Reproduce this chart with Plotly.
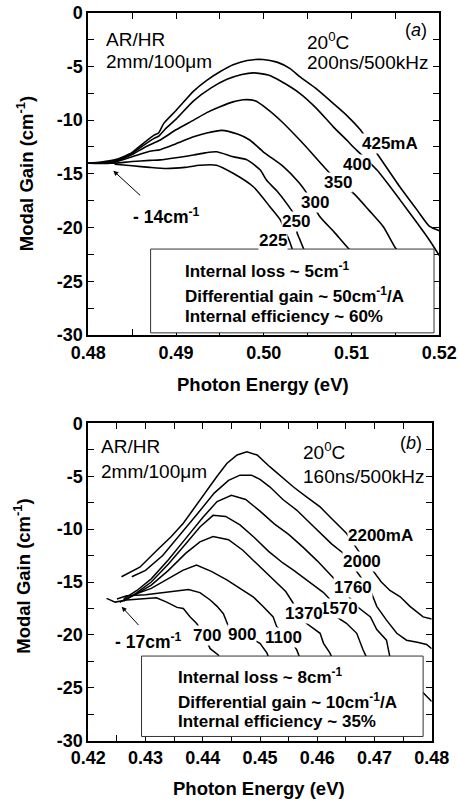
import plotly.graph_objects as go

# ---------------- data: panel (a) ----------------
E_425 = [0.4800,0.4815,0.4830,0.4840,0.4850,0.4862,0.4875,0.4880,0.4886,0.4900,0.4920,0.4935,0.4950,0.4965,0.4981,0.4999,0.5015,0.5030,0.5041,0.5060,0.5079,0.5095,0.5110,0.5129,0.5155,0.5175,0.5189,0.5200]
G_425 = [-14.0,-13.9,-13.7,-13.4,-13.0,-12.2,-11.4,-11.2,-10.3,-9.1,-7.3,-6.3,-5.5,-4.85,-4.45,-4.35,-4.6,-5.2,-5.96,-7.1,-8.44,-9.6,-10.9,-13.1,-16.2,-18.4,-19.9,-20.3]
E_400 = [0.4800,0.4815,0.4830,0.4840,0.4850,0.4862,0.4875,0.4880,0.4888,0.4900,0.4920,0.4940,0.4958,0.4975,0.4988,0.5005,0.5020,0.5041,0.5060,0.5079,0.5095,0.5102,0.5129,0.5155,0.5175,0.5189,0.5200]
G_400 = [-14.0,-13.95,-13.8,-13.5,-13.1,-12.4,-11.7,-11.5,-10.8,-9.9,-8.2,-7.0,-6.2,-5.75,-5.6,-5.8,-6.4,-7.5,-8.9,-10.6,-11.9,-12.5,-14.65,-17.4,-19.6,-21.2,-22.6]
E_350 = [0.4800,0.4820,0.4835,0.4850,0.4865,0.4882,0.4900,0.4920,0.4935,0.4950,0.4965,0.4977,0.4990,0.5003,0.5020,0.5041,0.5055,0.5068,0.5085,0.5102,0.5120,0.5136,0.5150,0.5160]
G_350 = [-14.0,-13.95,-13.7,-13.2,-12.5,-11.85,-10.9,-10.0,-9.3,-8.75,-8.3,-8.1,-8.2,-8.9,-10.1,-11.85,-13.1,-14.3,-15.8,-16.8,-18.4,-19.9,-21.9,-23.0]
E_300 = [0.4800,0.4825,0.4850,0.4870,0.4882,0.4900,0.4920,0.4935,0.4952,0.4970,0.4984,0.5000,0.5022,0.5040,0.5049,0.5064,0.5080,0.5096,0.5110]
G_300 = [-14.0,-14.0,-13.4,-12.9,-12.75,-12.2,-11.55,-11.2,-10.95,-11.3,-11.85,-13.0,-14.3,-15.8,-16.8,-19.0,-20.4,-21.9,-23.0]
E_250 = [0.4800,0.4830,0.4850,0.4870,0.4882,0.4900,0.4920,0.4933,0.4946,0.4965,0.4981,0.4996,0.5003,0.5015,0.5026,0.5036,0.5038,0.5041,0.5045,0.5050]
G_250 = [-14.0,-14.0,-13.85,-13.75,-13.7,-13.5,-13.25,-13.05,-12.94,-13.4,-13.7,-14.65,-15.58,-16.6,-17.75,-19.0,-20.5,-21.1,-21.9,-22.8]
E_225 = [0.4830,0.4850,0.4870,0.4889,0.4910,0.4927,0.4946,0.4965,0.4988,0.5007,0.5019,0.5024,0.5028,0.5032,0.5036]
G_225 = [-14.1,-14.25,-14.4,-14.5,-14.4,-14.2,-14.2,-14.95,-16.2,-18.06,-19.3,-20.3,-21.0,-21.9,-23.0]

# ---------------- data: panel (b) ----------------
E_2200 = [0.4258,0.4290,0.4320,0.4345,0.4366,0.4390,0.4407,0.4425,0.4442,0.4460,0.4477,0.4495,0.4517,0.4540,0.4558,0.4580,0.4605,0.4625,0.4651,0.4675,0.4698,0.4712,0.4727,0.4745,0.4762,0.4785,0.4800]
G_2200 = [-14.5,-13.6,-12.0,-10.7,-9.45,-7.6,-6.3,-5.0,-3.8,-3.0,-2.7,-3.0,-4.1,-5.2,-6.0,-6.9,-7.9,-9.0,-10.4,-12.3,-14.0,-15.0,-15.8,-16.4,-17.3,-18.3,-18.5]
E_2000 = [0.4276,0.4300,0.4330,0.4360,0.4390,0.4420,0.4445,0.4465,0.4485,0.4500,0.4517,0.4540,0.4564,0.4585,0.4605,0.4625,0.4646,0.4672,0.4693,0.4704,0.4721,0.4739,0.4756,0.4775,0.4791,0.4800]
G_2000 = [-14.5,-13.9,-12.5,-10.6,-8.6,-6.6,-5.4,-4.9,-4.9,-5.3,-6.0,-7.2,-8.2,-9.3,-10.4,-11.4,-12.3,-14.2,-15.8,-17.3,-18.6,-19.85,-20.5,-20.7,-20.9,-21.3]
E_1760 = [0.4262,0.4285,0.4310,0.4340,0.4370,0.4400,0.4425,0.4450,0.4475,0.4500,0.4525,0.4550,0.4575,0.4600,0.4628,0.4669,0.4693,0.4704,0.4721,0.4727,0.4750,0.4770,0.4785,0.4800]
G_1760 = [-16.6,-15.8,-14.7,-12.9,-10.9,-8.9,-7.4,-6.8,-7.2,-8.3,-9.5,-10.5,-11.7,-13.0,-14.6,-17.3,-18.3,-19.5,-20.5,-22.1,-23.5,-24.6,-25.5,-26.3]
E_1570 = [0.4262,0.4285,0.4310,0.4340,0.4370,0.4395,0.4418,0.4440,0.4465,0.4490,0.4515,0.4540,0.4559,0.4587,0.4611,0.4625,0.4634,0.4651,0.4669,0.4680,0.4686,0.4700]
G_1570 = [-16.8,-16.0,-15.0,-13.3,-11.4,-9.8,-8.7,-8.8,-9.6,-10.8,-12.1,-13.2,-13.9,-15.0,-16.0,-16.8,-18.3,-18.9,-19.85,-21.4,-22.1,-23.5]
E_1370 = [0.4255,0.4285,0.4310,0.4340,0.4370,0.4395,0.4418,0.4445,0.4470,0.4495,0.4520,0.4545,0.4565,0.4581,0.4605,0.4611,0.4622,0.4630]
G_1370 = [-16.9,-16.1,-15.3,-13.9,-12.3,-11.2,-10.7,-11.0,-12.0,-13.3,-14.6,-15.9,-17.6,-18.9,-19.85,-20.8,-21.7,-22.6]
E_1100 = [0.4255,0.4285,0.4310,0.4340,0.4365,0.4389,0.4415,0.4442,0.4465,0.4488,0.4505,0.4523,0.4529,0.4553,0.4564,0.4572]
G_1100 = [-16.9,-16.1,-15.6,-14.7,-13.9,-13.4,-14.0,-14.8,-15.6,-16.4,-17.3,-18.3,-19.2,-20.5,-21.4,-22.5]
E_900 = [0.4250,0.4267,0.4300,0.4330,0.4354,0.4375,0.4395,0.4413,0.4425,0.4436,0.4445,0.4500,0.4512,0.4518]
G_900 = [-16.6,-16.3,-16.2,-16.0,-15.9,-15.7,-16.0,-16.7,-17.3,-18.0,-19.2,-20.8,-21.7,-22.5]
E_700 = [0.4232,0.4247,0.4267,0.4290,0.4319,0.4337,0.4355,0.4366,0.4378,0.4389,0.4398,0.4413,0.4427,0.4432]
G_700 = [-16.55,-16.9,-16.7,-16.6,-16.5,-16.9,-17.4,-17.5,-18.3,-18.9,-19.6,-21.3,-21.9,-22.5]

labels_a = ["425mA", "400", "350", "300", "250", "225"]
labels_b = ["2200mA", "2000", "1760", "1570", "1370", "1100", "900", "700"]
box_a = ["Internal loss ~ 5cm<sup>-1</sup>", "Differential gain ~ 50cm<sup>-1</sup>/A", "Internal efficiency ~ 60%"]
box_b = ["Internal loss ~ 8cm<sup>-1</sup>", "Differential gain ~ 10cm<sup>-1</sup>/A", "Internal efficiency ~ 35%"]
xticks_a = [0.48, 0.49, 0.50, 0.51, 0.52]
xticks_b = [0.42, 0.43, 0.44, 0.45, 0.46, 0.47, 0.48]
yticks = [0, -5, -10, -15, -20, -25, -30]

FONT = "Arial, Liberation Sans, sans-serif"
W, H = 458, 803

curves_a = [(E_425, G_425), (E_400, G_400), (E_350, G_350), (E_300, G_300), (E_250, G_250), (E_225, G_225)]
curves_b = [(E_2200, G_2200), (E_2000, G_2000), (E_1760, G_1760), (E_1570, G_1570),
            (E_1370, G_1370), (E_1100, G_1100), (E_900, G_900), (E_700, G_700)]

fig = go.Figure()
for ex, gy in curves_a:
    fig.add_trace(go.Scatter(x=ex, y=gy, mode="lines", xaxis="x", yaxis="y",
                             line=dict(color="black", width=1.6, shape="spline", smoothing=0.6),
                             showlegend=False, hoverinfo="skip"))
for ex, gy in curves_b:
    fig.add_trace(go.Scatter(x=ex, y=gy, mode="lines", xaxis="x2", yaxis="y2",
                             line=dict(color="black", width=1.5),
                             showlegend=False, hoverinfo="skip"))

TF = dict(family=FONT, size=18, color="black")

def xax(rng, dom, anchor, vals):
    return dict(range=rng, domain=dom, anchor=anchor, automargin=False,
                tickmode="array", tickvals=vals, ticktext=["<b>%.2f</b>" % v for v in vals],
                ticks="inside", ticklen=6, tickwidth=1.2, tickcolor="black",
                showline=True, linecolor="black", linewidth=1.8, mirror="allticks",
                showgrid=False, zeroline=False, tickfont=TF,
                minor=dict(ticks="inside", ticklen=6, dtick=0.005, tickwidth=1.2, tickcolor="black", showgrid=False))

def yax(dom, anchor):
    return dict(range=[-30, 0], domain=dom, anchor=anchor, automargin=False,
                tickmode="array", tickvals=yticks, ticktext=["<b>%d</b>" % v for v in yticks],
                ticks="inside", ticklen=6, tickwidth=1.2, tickcolor="black",
                showline=True, linecolor="black", linewidth=1.8, mirror="allticks",
                showgrid=False, zeroline=False, tickfont=TF,
                minor=dict(ticks="inside", ticklen=6, dtick=2.5, tickwidth=1.2, tickcolor="black", showgrid=False))

fig.update_layout(
    width=W, height=H, margin=dict(l=0, r=0, t=0, b=0, autoexpand=False),
    paper_bgcolor="white", plot_bgcolor="white",
    xaxis=xax([0.48, 0.52], [88.3 / W, 439.3 / W], "y", xticks_a),
    yaxis=yax([1 - 335 / H, 1 - 12.7 / H], "x"),
    xaxis2=xax([0.42, 0.48], [88.3 / W, 431.7 / W], "y2", xticks_b),
    yaxis2=yax([1 - 740.7 / H, 1 - 423.3 / H], "x2"),
)

# boxes
fig.add_shape(type="rect", xref="x", yref="y", x0=0.4871, x1=0.5194, y0=-29.8, y1=-22.0,
              fillcolor="white", line=dict(color="#333333", width=1), layer="above")
fig.add_shape(type="rect", xref="x2", yref="y2", x0=0.4293, x1=0.4785, y0=-29.6, y1=-22.0,
              fillcolor="white", line=dict(color="#333333", width=1), layer="above")

def ann(text, x, y, xr, yr, size=17, bold=True, xanchor="center", bg=None, angle=0):
    fig.add_annotation(text=("<b>%s</b>" % text) if bold else text, x=x, y=y, xref=xr, yref=yr,
                       showarrow=False, xanchor=xanchor, yanchor="middle", textangle=angle,
                       bgcolor=bg, borderpad=0,
                       font=dict(family=FONT, size=size, color="black"))

# curve labels (a)
pos_a = [(0.51437, -12.22), (0.51059, -14.09), (0.50849, -15.83), (0.50584, -17.69), (0.50367, -19.46), (0.50101, -21.16)]
for t, (x, y) in zip(labels_a, pos_a):
    ann(t, x, y, "x", "y", bg="white")
# curve labels (b)
pos_b = [(0.4710, -10.6), (0.4679, -13.08), (0.4662, -15.52), (0.4638, -17.49), (0.4577, -18.02),
         (0.4541, -20.2), (0.4468, -20.0), (0.4408, -20.1)]
for t, (x, y) in zip(labels_b, pos_b):
    ann(t, x, y, "x2", "y2", bg="white")

# box text
for t, y in zip(box_a, [-23.96, -26.3, -28.3]):
    ann(t, 0.4909, y, "x", "y", xanchor="left")
for t, y in zip(box_b, [-23.88, -26.25, -28.2]):
    ann(t, 0.43544, y, "x2", "y2", xanchor="left")

# condition text (a)
ann("AR/HR", 0.4819, -2.48, "x", "y", size=19, bold=False, xanchor="left")
ann("2mm/100\u03bcm", 0.4819, -4.56, "x", "y", size=19, bold=False, xanchor="left")
ann("20<sup>0</sup>C", 0.5048, -2.6, "x", "y", size=19, bold=False, xanchor="left")
ann("200ns/500kHz", 0.5048, -4.6, "x", "y", size=19, bold=False, xanchor="left")
ann("(<i>a</i>)", 0.5174, -1.6, "x", "y", size=18, bold=False)
# condition text (b)
ann("AR/HR", 0.4220, -2.2, "x2", "y2", size=19, bold=False, xanchor="left")
ann("2mm/100\u03bcm", 0.4220, -4.57, "x2", "y2", size=19, bold=False, xanchor="left")
ann("20<sup>0</sup>C", 0.4573, -2.6, "x2", "y2", size=19, bold=False, xanchor="left")
ann("160ns/500kHz", 0.4573, -5.0, "x2", "y2", size=19, bold=False, xanchor="left")
ann("(<i>b</i>)", 0.4764, -1.9, "x2", "y2", size=18, bold=False)

# arrows and threshold labels
fig.add_annotation(x=0.48285, y=-14.71, ax=0.48608, ay=-17.13, xref="x", yref="y", axref="x", ayref="y",
                   showarrow=True, arrowhead=2, arrowsize=1, arrowwidth=1, arrowcolor="black", text="")
ann("- 14cm<sup>-1</sup>", 0.48893, -18.9, "x", "y", size=17.5)
fig.add_annotation(x=0.42583, y=-17.33, ax=0.42903, ay=-19.22, xref="x2", yref="y2", axref="x2", ayref="y2",
                   showarrow=True, arrowhead=2, arrowsize=1, arrowwidth=1, arrowcolor="black", text="")
ann("- 17cm<sup>-1</sup>", 0.4306, -20.6, "x2", "y2", size=17.5)

# axis titles
ann("Photon Energy (eV)", 263.3 / W, 1 - 385 / H, "paper", "paper", size=18.5)
ann("Photon Energy (eV)", 259 / W, 1 - 788.3 / H, "paper", "paper", size=18.5)
ann("Modal Gain (cm<sup>-1</sup>)", 25 / W, 1 - 174.2 / H, "paper", "paper", size=18.5, angle=-90)
ann("Modal Gain (cm<sup>-1</sup>)", 22 / W, 1 - 576.7 / H, "paper", "paper", size=18.5, angle=-90)

fig.write_html("out.html")
